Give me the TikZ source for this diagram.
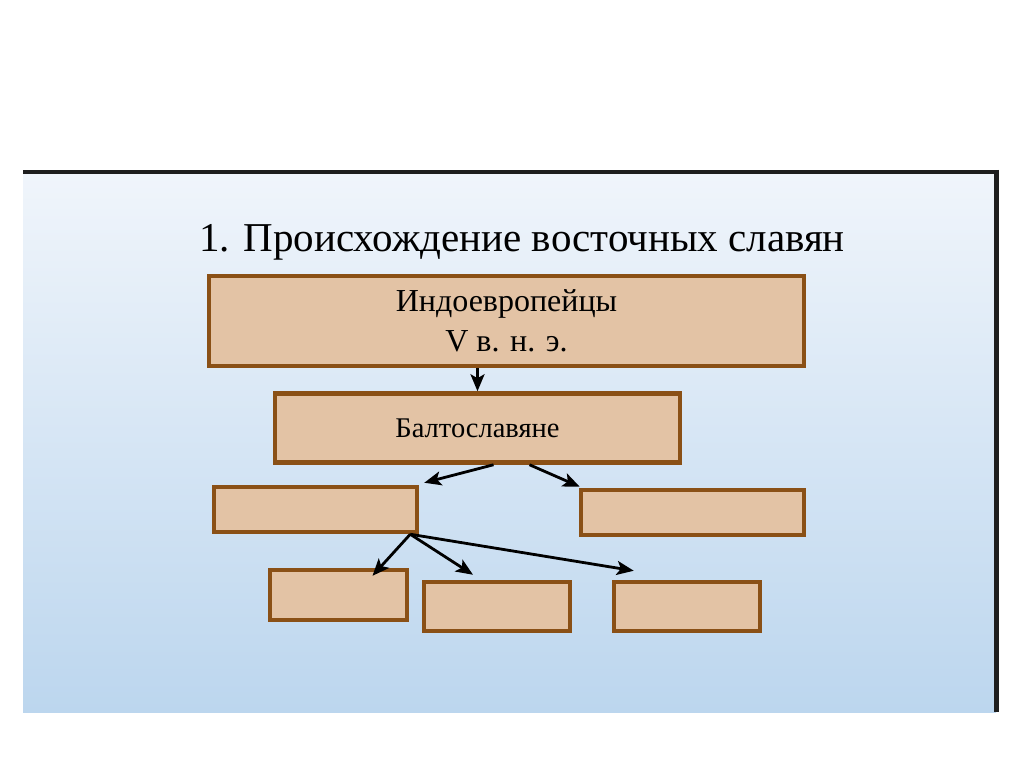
\documentclass[tikz,border=0pt]{standalone}
\usepackage{fontspec}
\setmainfont{Liberation Serif}
\usetikzlibrary{arrows.meta}
\definecolor{slidetop}{RGB}{240, 245, 251}
\definecolor{slidemid}{RGB}{203, 224, 243}
\definecolor{slidebottom}{RGB}{188, 214, 238}
\definecolor{boxfill}{RGB}{227, 195, 165}
\definecolor{boxline}{RGB}{138, 80, 22}
\definecolor{frameline}{RGB}{30, 30, 30}

\begin{document}
\begin{tikzpicture}[x=1pt, y=-1pt,
    box/.style={draw=boxline, fill=boxfill, line width=4.5pt, inner sep=0pt},
    arr/.style={line width=2.8pt, -{Stealth[length=17pt, width=14pt, inset=4pt]}}]
                \useasboundingbox (0,0) rectangle (1024,767);
                \fill[white] (0,0) rectangle (1024,767);

                % Slide background
                \shade[top color=slidetop, middle color=slidemid, bottom color=slidebottom] (23,172) rectangle (996,712);
                \draw[frameline, line width=4pt] (23,172) -- (999,172);
                \draw[frameline, line width=5pt] (996,170) -- (996,712);

                % Title
                \node[font=\fontsize{41}{48}\selectfont] (title) at (522,242) {1. Происхождение восточных славян};

                % Indo-Europeans
                \node[box, minimum width=595pt, minimum height=90pt, align=center, font=\fontsize{32}{40}\selectfont] (indo) at (506.5,321) {Индоевропейцы\\V в. н. э.};

                % Balto-Slavs
                \node[box, minimum width=405pt, minimum height=69pt, font=\fontsize{28.5}{32}\selectfont] (balto) at (477.5,428) {Балтославяне};

                % Second row
                \node[box, minimum width=203pt, minimum height=45pt] (left) at (315.5,509.5) {};
                \node[box, minimum width=223pt, minimum height=45pt] (right) at (692.5,512.5) {};

                % Third row
                \node[box, minimum width=137pt, minimum height=50pt] (east) at (338.5,595) {};
                \node[box, minimum width=146pt, minimum height=49pt] (west) at (497,606.5) {};
                \node[box, minimum width=146pt, minimum height=49pt] (south) at (687,606.5) {};

                % Arrows
                \draw[arr] (balto.north |- indo.south) -- (balto.north);
                \draw[arr] ([xshift=16pt]balto.south) -- ([xshift=5pt, yshift=2pt]left.north east);
                \draw[arr] ([xshift=52pt]balto.south) -- ([xshift=1pt, yshift=1pt]right.north west);
                \draw[arr] ([xshift=-9pt]left.south east) -- ([xshift=34pt, yshift=-8pt]east.north);
                \draw[arr] ([xshift=-9pt]left.south east) -- ([xshift=-24pt, yshift=5pt]west.north);
                \draw[arr] ([xshift=-9pt]left.south east) -- ([xshift=22pt, yshift=9pt]south.north west);
            \end{tikzpicture}
\end{document}
